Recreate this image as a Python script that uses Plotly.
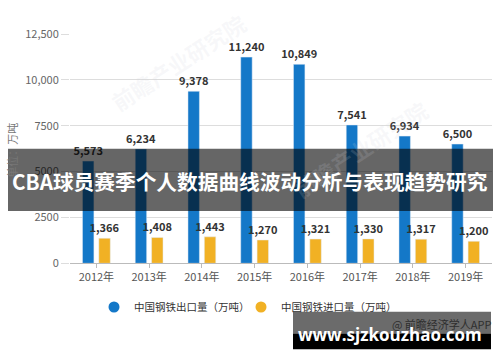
import plotly.graph_objects as go

years = ["2012年", "2013年", "2014年", "2015年", "2016年", "2017年", "2018年", "2019年"]
export_vals = [5573, 6234, 9378, 11240, 10849, 7541, 6934, 6500]
import_vals = [1366, 1408, 1443, 1270, 1321, 1330, 1317, 1200]
ytick_vals = [0, 2500, 5000, 7500, 10000, 12500]
ytick_text = ["0", "2500", "5000", "7500", "10,000", "12,500"]
name_export = "中国钢铁出口量（万吨）"
name_import = "中国钢铁进口量（万吨）"
title_text = "CBA球员赛季个人数据曲线波动分析与表现趋势研究"
site_text = "www.sjzkouzhao.com"
source_text = "@ 前瞻经济学人APP"
ytitle_text = "单位：万吨"
watermark_text = "前瞻产业研究院"

BLUE = "#1478c8"
YELLOW = "#f1b124"
FONT = "Noto Sans CJK SC"

W, H = 500, 362
ML, MR, MT, MB = 70, 8, 34, 96
PW, PH = W - ML - MR, H - MT - MB


def fx(px):
    return (px - ML) / PW


def fy(py):
    return (H - MB - py) / PH


fig = go.Figure()
fig.add_trace(go.Bar(
    x=years, y=export_vals, name=name_export, marker_color=BLUE,
    texttemplate="%{y:,}", textposition="outside", constraintext="none",
    textfont=dict(family=FONT, size=11, color="#333333", weight="bold"),
    cliponaxis=False, showlegend=False))
fig.add_trace(go.Bar(
    x=years, y=import_vals, name=name_import, marker_color=YELLOW,
    texttemplate="%{y:,}", textposition="outside", constraintext="none",
    textfont=dict(family=FONT, size=11, color="#333333", weight="bold"),
    cliponaxis=False, showlegend=False))
# legend entries with circle symbols (one legend each, for exact placement)
fig.add_trace(go.Scatter(x=[None], y=[None], mode="markers", name=name_export,
                         marker=dict(color=BLUE, size=11, symbol="circle"), legend="legend"))
fig.add_trace(go.Scatter(x=[None], y=[None], mode="markers", name=name_import,
                         marker=dict(color=YELLOW, size=11, symbol="circle"), legend="legend2"))

shapes = [
    dict(type="rect", xref="paper", yref="paper", x0=fx(8), x1=fx(493), y0=fy(213), y1=fy(150),
         fillcolor="rgba(0,0,0,0.6)", line=dict(width=0), layer="above"),
    dict(type="rect", xref="paper", yref="paper", x0=fx(293), x1=fx(491), y0=fy(337), y1=fy(315),
         fillcolor="rgba(0,0,0,0.58)", line=dict(width=0), layer="above"),
    dict(type="rect", xref="paper", yref="paper", x0=fx(293), x1=fx(491), y0=fy(353), y1=fy(337),
         fillcolor="#000000", line=dict(width=0), layer="above"),
]


def ann(text, px, py, font, angle=0, xanchor="center"):
    return dict(text=text, xref="paper", yref="paper", x=fx(px), y=fy(py), showarrow=False,
                xanchor=xanchor, yanchor="middle", textangle=angle, font=font)


wm_font = dict(family=FONT, size=22, color="rgba(205,210,218,0.16)", weight="bold")
annotations = [
    ann(watermark_text, 178, 62, wm_font, angle=-33),
    ann(watermark_text, 360, 150, wm_font, angle=-33),
    ann(ytitle_text, 12, 152, dict(family=FONT, size=11, color="#777777"), angle=-90),
    ann(title_text, 250, 183, dict(family=FONT, size=20.7, color="#ffffff", weight="bold")),
    ann(source_text, 494, 327, dict(family=FONT, size=11, color="#2e2e2e"), xanchor="right"),
    ann(site_text, 390, 338, dict(family="Open Sans", size=17, color="#ffffff", weight="bold")),
]

legend_common = dict(orientation="h", xref="container", yref="container", y=1 - 307 / H,
                     xanchor="left", yanchor="middle",
                     font=dict(family=FONT, size=10.5, color="#333333"), itemwidth=30,
                     bgcolor="rgba(0,0,0,0)")

fig.update_layout(
    width=W, height=H,
    margin=dict(l=ML, r=MR, t=MT, b=MB, pad=0),
    paper_bgcolor="white", plot_bgcolor="white",
    barmode="group", bargap=0.38, bargroupgap=0.3,
    font=dict(family=FONT, size=11, color="#555555"),
    showlegend=True,
    legend=dict(legend_common, x=94 / W),
    legend2=dict(legend_common, x=241 / W),
    xaxis=dict(showgrid=False, showline=True, linecolor="#bbbbbb", linewidth=1,
               ticks="outside", ticklen=4, tickcolor="#bbbbbb",
               tickfont=dict(family=FONT, size=11, color="#555555")),
    yaxis=dict(range=[0, 12500], tickvals=ytick_vals, ticktext=ytick_text,
               showgrid=True, gridcolor="#dddddd", gridwidth=1, zeroline=False,
               showline=False, ticks="outside", ticklen=8, tickcolor="#dddddd",
               tickfont=dict(family=FONT, size=11, color="#666666")),
    shapes=shapes, annotations=annotations,
)

fig.write_html("out.html")
